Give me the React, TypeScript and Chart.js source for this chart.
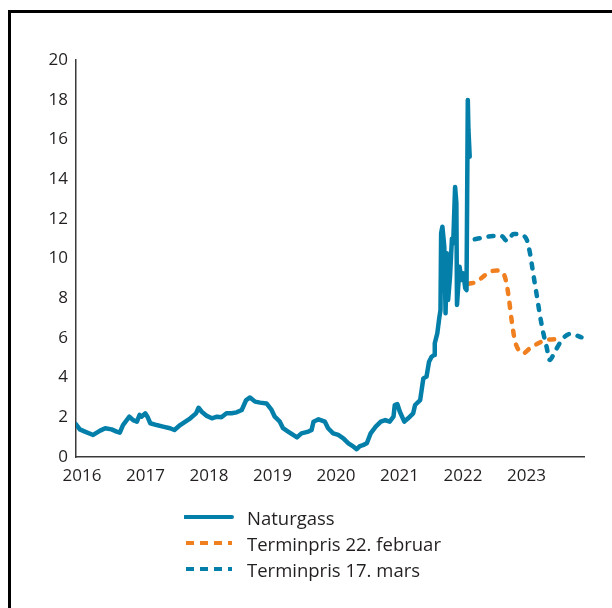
import React, { useEffect, useRef } from "react";
import { Chart, registerables } from "chart.js";

Chart.register(...registerables);

// Naturgass (decimal years, value)
const gasYears = [
  2016.0, 2016.06, 2016.14, 2016.27, 2016.38, 2016.46, 2016.56, 2016.64, 2016.69, 2016.74,
  2016.84, 2016.9, 2016.96, 2017.0, 2017.03, 2017.09, 2017.13, 2017.17, 2017.27, 2017.37,
  2017.48, 2017.55, 2017.64, 2017.8, 2017.89, 2017.93, 2017.98, 2018.06, 2018.14, 2018.22,
  2018.29, 2018.37, 2018.45, 2018.53, 2018.61, 2018.68, 2018.74, 2018.82, 2018.9, 2019.0,
  2019.08, 2019.13, 2019.21, 2019.26, 2019.34, 2019.42, 2019.48, 2019.55, 2019.66, 2019.71,
  2019.74, 2019.82, 2019.92, 2019.97, 2020.05, 2020.13, 2020.21, 2020.29, 2020.37, 2020.42,
  2020.47, 2020.52, 2020.58, 2020.64, 2020.72, 2020.8, 2020.87, 2020.94, 2021.0, 2021.02,
  2021.06, 2021.1, 2021.17, 2021.23, 2021.31, 2021.34, 2021.42, 2021.47, 2021.52, 2021.56,
  2021.6, 2021.64, 2021.65, 2021.69, 2021.72, 2021.74, 2021.75, 2021.77, 2021.8, 2021.82,
  2021.84, 2021.86, 2021.89, 2021.92, 2021.94, 2021.97, 2021.99, 2022.0, 2022.04, 2022.07,
  2022.1, 2022.13, 2022.15, 2022.17, 2022.18, 2022.2,
];
const gasValues = [
  1.65, 1.39, 1.28, 1.11, 1.33, 1.45, 1.39, 1.28, 1.23, 1.61,
  2.03, 1.86, 1.78, 2.12, 2.03, 2.2, 2.0, 1.7, 1.61, 1.53,
  1.45, 1.36, 1.61, 1.95, 2.2, 2.48, 2.28, 2.07, 1.95, 2.03,
  2.0, 2.2, 2.2, 2.25, 2.37, 2.87, 3.0, 2.79, 2.74, 2.7,
  2.37, 2.03, 1.78, 1.45, 1.28, 1.11, 0.99, 1.19, 1.28, 1.36,
  1.78, 1.9, 1.78, 1.45, 1.19, 1.11, 0.94, 0.69, 0.52, 0.39,
  0.55, 0.6, 0.69, 1.19, 1.53, 1.78, 1.86, 1.78, 2.03, 2.62,
  2.67, 2.28, 1.78, 1.95, 2.2, 2.62, 2.87, 3.96, 4.05, 4.8,
  5.05, 5.14, 5.73, 6.23, 6.99, 7.4, 11.27, 11.6, 10.6, 7.24,
  10.26, 7.91, 9.08, 11.0, 10.77, 13.6, 12.8, 7.66, 9.59, 8.92,
  9.25, 8.5, 8.41, 17.98, 16.5, 15.13,
];

// Terminpris 22. februar
const febYears = [
  2022.18, 2022.31, 2022.41, 2022.52, 2022.63, 2022.72, 2022.78, 2022.82, 2022.86, 2022.91,
  2022.97, 2023.04, 2023.15, 2023.28, 2023.39, 2023.54,
];
const febValues = [
  8.72, 8.83, 9.08, 9.34, 9.39, 9.29, 8.75, 7.91, 6.9, 5.89,
  5.39, 5.22, 5.48, 5.73, 5.89, 5.93,
];

// Terminpris 17. mars
const marYears = [
  2022.28, 2022.44, 2022.57, 2022.7, 2022.79, 2022.89, 2023.02, 2023.1, 2023.15, 2023.2,
  2023.26, 2023.31, 2023.36, 2023.41, 2023.46, 2023.54, 2023.65, 2023.78, 2023.96,
];
const marValues = [
  10.97, 11.07, 11.13, 11.13, 10.88, 11.23, 11.18, 10.93, 10.26, 9.25,
  8.07, 7.07, 6.23, 5.56, 4.89, 5.3, 5.89, 6.2, 6.03,
];

const xTickYears = [2016, 2017, 2018, 2019, 2020, 2021, 2022, 2023];
const yTicks = [0, 2, 4, 6, 8, 10, 12, 14, 16, 18, 20];

const seriesLabels = ["Naturgass", "Terminpris 22. februar", "Terminpris 17. mars"];

const BLUE = "#037fa9";
const ORANGE = "#f07f1f";
const TEXT = "#231f20";
const FONT = "'Open Sans', sans-serif";

const zip = (xs: number[], ys: number[]) => xs.map((x, i) => ({ x, y: ys[i] }));

export default function App() {
  const ref = useRef<HTMLCanvasElement | null>(null);

  useEffect(() => {
    if (!ref.current) return;
    const chart = new Chart(ref.current, {
      type: "line",
      data: {
        datasets: [
          {
            label: seriesLabels[0],
            data: zip(gasYears, gasValues),
            borderColor: BLUE,
            borderWidth: 4.5,
            pointRadius: 0,
            tension: 0,
            borderJoinStyle: "round",
            borderCapStyle: "round",
          },
          {
            label: seriesLabels[1],
            data: zip(febYears, febValues),
            borderColor: ORANGE,
            borderWidth: 4.5,
            pointRadius: 0,
            cubicInterpolationMode: "monotone",
            borderDash: [5, 9],
            borderCapStyle: "round",
          },
          {
            label: seriesLabels[2],
            data: zip(marYears, marValues),
            borderColor: BLUE,
            borderWidth: 4.5,
            pointRadius: 0,
            cubicInterpolationMode: "monotone",
            borderDash: [5, 9],
            borderCapStyle: "round",
          },
        ],
      },
      options: {
        animation: false,
        responsive: false,
        maintainAspectRatio: false,
        layout: { padding: { top: 60, right: 28, left: 0, bottom: 0 } },
        plugins: { legend: { display: false }, tooltip: { enabled: false } },
        scales: {
          x: {
            type: "linear",
            min: 2016,
            max: 2024,
            grid: { display: false, drawTicks: false },
            border: { display: true, color: "#3a3a3a", width: 1.5 },
            afterBuildTicks: (s: any) => {
              s.ticks = xTickYears.map((v) => ({ value: v }));
            },
            afterFit: (s: any) => {
              s.height = 33;
            },
            ticks: {
              autoSkip: false,
              maxRotation: 0,
              labelOffset: 6,
              padding: 9,
              color: TEXT,
              font: { family: FONT, size: 17 },
              callback: (v: any) => String(v),
            },
          },
          y: {
            min: 0,
            max: 20,
            grid: { display: false, drawTicks: false },
            border: { display: true, color: "#3a3a3a", width: 1.5 },
            afterBuildTicks: (s: any) => {
              s.ticks = yTicks.map((v) => ({ value: v }));
            },
            afterFit: (s: any) => {
              s.width = 76;
            },
            ticks: {
              padding: 8,
              color: TEXT,
              font: { family: FONT, size: 17 },
              callback: (v: any) => String(v),
            },
          },
        },
      },
    });
    return () => chart.destroy();
  }, []);

  const legendRows = [
    { label: seriesLabels[0], color: BLUE, dash: undefined as string | undefined, top: 504 },
    { label: seriesLabels[1], color: ORANGE, dash: "8 6", top: 530 },
    { label: seriesLabels[2], color: BLUE, dash: "8 6", top: 556 },
  ];

  return (
    <div>
      <div
        style={{
          position: "fixed",
          left: 8,
          top: 10,
          width: 700,
          height: 700,
          borderTop: "3px solid #000",
          borderLeft: "3px solid #000",
          boxSizing: "border-box",
        }}
      />
      <canvas
        ref={ref}
        width={612}
        height={490}
        style={{ position: "fixed", left: 0, top: 0, width: 612, height: 490 }}
      />
      {legendRows.map((r) => (
        <div
          key={r.label}
          style={{
            position: "fixed",
            left: 184,
            top: r.top,
            height: 26,
            display: "flex",
            alignItems: "center",
            fontFamily: FONT,
            fontSize: 18.5,
            color: TEXT,
            whiteSpace: "nowrap",
          }}
        >
          <svg width={50} height={26} style={{ display: "block" }}>
            <line
              x1={r.dash ? 2 : 1}
              y1={13}
              x2={48}
              y2={13}
              stroke={r.color}
              strokeWidth={4}
              strokeDasharray={r.dash}
              strokeLinecap={r.dash ? "butt" : "round"}
            />
          </svg>
          <span style={{ marginLeft: 13 }}>{r.label}</span>
        </div>
      ))}
    </div>
  );
}
